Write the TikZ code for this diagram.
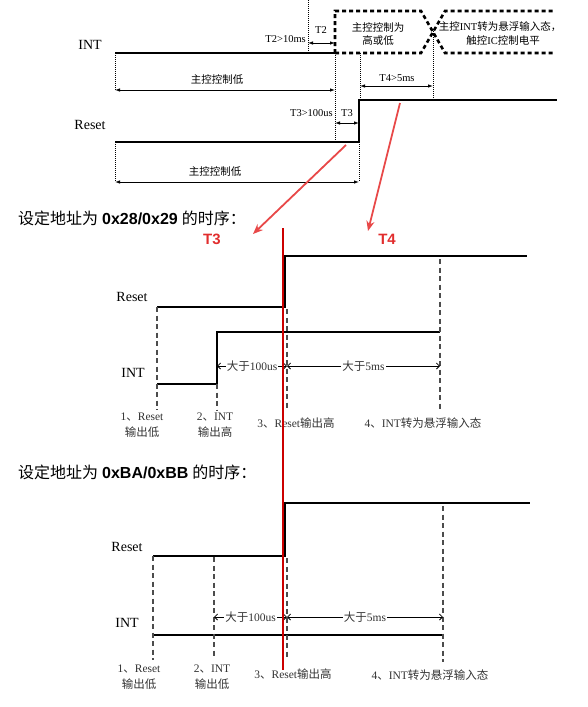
\documentclass[tikz,border=0pt]{standalone}
\usepackage{fontspec}
\setmainfont{Liberation Serif}
\newfontfamily\cjk{Noto Sans CJK SC}
\newfontfamily\hsans{Liberation Sans}
\usetikzlibrary{arrows.meta}
\definecolor{rarrow}{RGB}{232,72,72}
\definecolor{rtext}{RGB}{225,45,45}
\begin{document}
\begin{tikzpicture}[x=1pt,y=-1pt,
 tsig/.style={line width=2.6pt},
 tdash/.style={line width=2.6pt,dash pattern=on 4pt off 3pt},
 dotv/.style={line width=0.9pt,dash pattern=on 1pt off 1pt},
 tdim/.style={line width=0.8pt,{Latex[length=5pt,width=3.5pt]}-{Latex[length=5pt,width=3.5pt]}},
 sig/.style={line width=1.4pt},
 dashv/.style={line width=1.1pt,draw=black!70,dash pattern=on 5pt off 3.5pt},
 dim/.style={line width=0.8pt,{Straight Barb[length=3pt,width=6pt]}-{Straight Barb[length=3pt,width=6pt]}},
 dimlab/.style={fill=white,inner sep=1pt,text=black!80,font=\fontsize{11.5}{12}\selectfont},
 signame/.style={inner sep=0pt,font=\fontsize{14}{15}\selectfont},
 small/.style={inner sep=0pt,font=\fontsize{10.5}{12}\selectfont},
 caption/.style={inner sep=0pt,text=black!80,font=\fontsize{11.5}{13}\selectfont},
 heading/.style={anchor=west,inner sep=0pt,font=\fontsize{16}{18}\selectfont},
 redlab/.style={inner sep=0pt,text=rtext,font=\hsans\bfseries\fontsize{15}{17}\selectfont},
 redarr/.style={draw=rarrow,line width=1.8pt,-{Stealth[length=10pt,width=8pt]}},
 redline/.style={draw=red!80!black,line width=1.2pt},
]
\useasboundingbox (0,0) rectangle (587,707);

% ================= TOP DIAGRAM =================
\node[signame] (tint) at (90,45) {INT};
\node[signame] (treset) at (90,125) {Reset};

\coordinate (i0) at (115,53);
\coordinate (i1) at (335,53);
\coordinate (b1) at (335,11);
\coordinate (b2) at (421,11);
\coordinate (b3) at (445,53);
\coordinate (b4) at (555,53);
\coordinate (b5) at (421,53);
\coordinate (b6) at (445,11);
\coordinate (b7) at (555,11);
\draw[tsig] (i0) -- (i1);
\draw[tdash] (i1) -- (b1) -- (b2) -- (b3) -- (b4);
\draw[tdash] (i1) -- (b5) -- (b6) -- (b7);

\node[small] at (378,27) {\cjk 主控控制为};
\node[small] at (378,41) {\cjk 高或低};
\node[small] at (500,27) {{\cjk 主控}INT{\cjk 转为悬浮输入态，}};
\node[small] at (503,41) {{\cjk 触控}IC{\cjk 控制电平}};

% T2
\coordinate (t2top) at (308,0);
\coordinate (t2bot) at (308,53);
\draw[dotv] (t2top) -- (t2bot);
\coordinate (t2a) at (308,43);
\coordinate (t2b) at (335,43);
\draw[tdim] (t2a) -- (t2b);
\node[small] (t2) at (321,30) {T2};
\node[small,anchor=east] (t2c) at (306,39) {T2>10ms};

% T4
\coordinate (x0) at (433,31);
\coordinate (x1) at (433,100);
\draw[dotv] (x0) -- (x1);
\coordinate (r4a) at (360,53);
\coordinate (r4b) at (360,100);
\draw[dotv] (r4a) -- (r4b);
\coordinate (t4a) at (360,86);
\coordinate (t4b) at (433,86);
\draw[tdim] (t4a) -- (t4b);
\node[small] (t4) at (397,78) {T4>5ms};

% Reset
\coordinate (r0) at (115,142);
\coordinate (r1) at (359,142);
\coordinate (r2) at (359,100);
\coordinate (r3) at (557,100);
\draw[tsig] (r0) -- (r1) -- (r2) -- (r3);

% T3
\coordinate (t3top) at (335,53);
\coordinate (t3bot) at (335,142);
\draw[dotv] (t3top) -- (t3bot);
\coordinate (t3a) at (335,123);
\coordinate (t3b) at (359,123);
\draw[tdim] (t3a) -- (t3b);
\node[small] (t3) at (347,113) {T3};
\node[small,anchor=east] (t3c) at (333,113) {T3>100us};

% INT low dimension
\coordinate (d1a) at (115,90);
\coordinate (d1b) at (335,90);
\draw[dotv] (i0) -- (d1a);
\draw[tdim] (d1a) -- (d1b);
\node[small] (d1l) at (217,80) {\cjk 主控控制低};

% Reset low dimension
\coordinate (d2a) at (115,182);
\coordinate (d2b) at (359,182);
\draw[dotv] (r0) -- (d2a);
\draw[dotv] (r1) -- (d2b);
\draw[tdim] (d2a) -- (d2b);
\node[small] (d2l) at (215,172) {\cjk 主控控制低};

% ================= RED ANNOTATIONS =================
\coordinate (ra1s) at (346,145);
\coordinate (ra1e) at (253,234);
\coordinate (ra2s) at (400,103);
\coordinate (ra2e) at (368,231);
\draw[redarr] (ra1s) -- (ra1e);
\draw[redarr] (ra2s) -- (ra2e);
\node[redlab] (rt3) at (212,239) {T3};
\node[redlab] (rt4) at (387,239) {T4};

% ================= MIDDLE DIAGRAM =================
\node[heading] (h1) at (18,218) {{\cjk 设定地址为} {\hsans\bfseries 0x28/0x29} {\cjk 的时序：}};
\node[signame] (mreset) at (132,297) {Reset};
\node[signame] (mint) at (133,373) {INT};

\coordinate (mr0) at (157,307);
\coordinate (mr1) at (285,307);
\coordinate (mr2) at (285,256);
\coordinate (mr3) at (527,256);
\draw[sig] (mr0) -- (mr1) -- (mr2) -- (mr3);

\coordinate (mi0) at (157,384);
\coordinate (mi1) at (217,384);
\coordinate (mi2) at (217,332);
\coordinate (mi3) at (440,332);
\draw[sig] (mi0) -- (mi1) -- (mi2) -- (mi3);

\coordinate (mv1a) at (157,307); \coordinate (mv1b) at (157,410);
\coordinate (mv2a) at (217,384); \coordinate (mv2b) at (217,410);
\coordinate (mv3a) at (287,309); \coordinate (mv3b) at (287,408);
\coordinate (mv4a) at (440,259); \coordinate (mv4b) at (440,410);
\draw[dashv] (mv1a) -- (mv1b);
\draw[dashv] (mv2a) -- (mv2b);
\draw[dashv] (mv3a) -- (mv3b);
\draw[dashv] (mv4a) -- (mv4b);

\coordinate (ma1) at (217,366);
\coordinate (ma2) at (287,366);
\coordinate (ma3) at (440,366);
\draw[dim] (ma1) -- node[dimlab] {{\cjk 大于}100us} (ma2);
\draw[dim] (ma2) -- node[dimlab] {{\cjk 大于}5ms} (ma3);

\node[caption] (mc1a) at (142,417) {1{\cjk 、}Reset};
\node[caption] (mc1b) at (142,432) {\cjk 输出低};
\node[caption] (mc2a) at (215,417) {2{\cjk 、}INT};
\node[caption] (mc2b) at (215,432) {\cjk 输出高};
\node[caption] (mc3) at (296,423) {3{\cjk 、}Reset{\cjk 输出高}};
\node[caption] (mc4) at (423,423) {4{\cjk 、}INT{\cjk 转为悬浮输入态}};

% ================= BOTTOM DIAGRAM =================
\node[heading] (h2) at (18,472) {{\cjk 设定地址为} {\hsans\bfseries 0xBA/0xBB} {\cjk 的时序：}};
\node[signame] (breset) at (127,547) {Reset};
\node[signame] (bint) at (127,623) {INT};

\coordinate (br0) at (153,556);
\coordinate (br1) at (285,556);
\coordinate (br2) at (285,503);
\coordinate (br3) at (530,503);
\draw[sig] (br0) -- (br1) -- (br2) -- (br3);

\coordinate (bi0) at (153,635);
\coordinate (bi1) at (443,635);
\draw[sig] (bi0) -- (bi1);

\coordinate (bv1a) at (153,556); \coordinate (bv1b) at (153,660);
\coordinate (bv2a) at (214,557); \coordinate (bv2b) at (214,657);
\coordinate (bv3a) at (287,558); \coordinate (bv3b) at (287,658);
\coordinate (bv4a) at (443,506); \coordinate (bv4b) at (443,662);
\draw[dashv] (bv1a) -- (bv1b);
\draw[dashv] (bv2a) -- (bv2b);
\draw[dashv] (bv3a) -- (bv3b);
\draw[dashv] (bv4a) -- (bv4b);

\coordinate (ba1) at (214,617);
\coordinate (ba2) at (287,617);
\coordinate (ba3) at (443,617);
\draw[dim] (ba1) -- node[dimlab] {{\cjk 大于}100us} (ba2);
\draw[dim] (ba2) -- node[dimlab] {{\cjk 大于}5ms} (ba3);

\node[caption] (bc1a) at (139,669) {1{\cjk 、}Reset};
\node[caption] (bc1b) at (139,684) {\cjk 输出低};
\node[caption] (bc2a) at (212,669) {2{\cjk 、}INT};
\node[caption] (bc2b) at (212,684) {\cjk 输出低};
\node[caption] (bc3) at (293,674) {3{\cjk 、}Reset{\cjk 输出高}};
\node[caption] (bc4) at (430,675) {4{\cjk 、}INT{\cjk 转为悬浮输入态}};

% red vertical line
\coordinate (rv0) at (283,228);
\coordinate (rv1) at (283,670);
\draw[redline] (rv0) -- (rv1);
\end{tikzpicture}
\end{document}
